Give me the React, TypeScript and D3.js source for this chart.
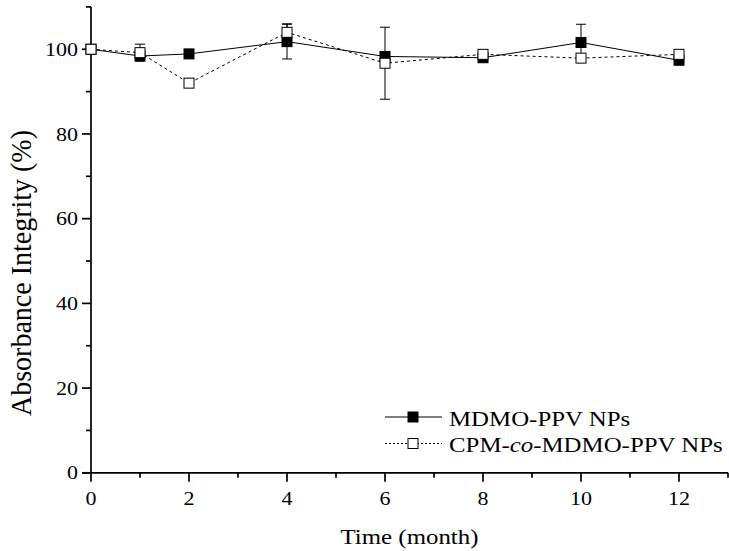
import React from "react";
import * as d3 from "d3";

// Time points (months)
const months = [0, 1, 2, 4, 6, 8, 10, 12];

// MDMO-PPV NPs: absorbance integrity (%) and error
const mdmoValues = [100, 98.4, 98.9, 101.8, 98.3, 98.0, 101.6, 97.4];
const mdmoErrors = [0, 0.5, 0.5, 4.1, 0.5, 0.5, 4.3, 0.5];

// CPM-co-MDMO-PPV NPs: absorbance integrity (%) and error
const cpmValues = [100, 99.2, 92.0, 104.0, 96.7, 98.8, 97.9, 98.8];
const cpmErrors = [0, 2.0, 1.0, 2.0, 8.5, 1.0, 0.5, 0.5];

const xTicks = [0, 2, 4, 6, 8, 10, 12];
const xMinorTicks = [1, 3, 5, 7, 9, 11, 13];
const yTicks = [0, 20, 40, 60, 80, 100];
const yMinorTicks = [10, 30, 50, 70, 90, 110];

const W = 729;
const H = 551;
const FONT = "'Liberation Serif', 'Times New Roman', serif";
// glyphs are set slightly wide
const SX = 1.13;

type Pt = { m: number; v: number; e: number };

export default function App() {
  const x = d3.scaleLinear().domain([0, 13]).range([91, 728]);
  const y = d3.scaleLinear().domain([0, 110]).range([472.8, 6.9]);

  const mdmo: Pt[] = months.map((m, i) => ({ m, v: mdmoValues[i], e: mdmoErrors[i] }));
  const cpm: Pt[] = months.map((m, i) => ({ m, v: cpmValues[i], e: cpmErrors[i] }));

  const line = d3
    .line<Pt>()
    .x((d) => x(d.m))
    .y((d) => y(d.v));

  const sq = 10;
  const cap = 5;

  const errBars = (data: Pt[], key: string) =>
    data
      .filter((d) => d.e > 0)
      .map((d, i) => {
        const cx = x(d.m);
        const y1 = y(d.v + d.e);
        const y2 = y(d.v - d.e);
        return (
          <g key={key + i} stroke="#000" strokeWidth={1}>
            <line x1={cx} x2={cx} y1={y1} y2={y2} />
            <line x1={cx - cap} x2={cx + cap} y1={y1} y2={y1} />
            <line x1={cx - cap} x2={cx + cap} y1={y2} y2={y2} />
          </g>
        );
      });

  const axisY = y(0);
  const axisX = x(0);

  return (
    <svg
      width={W}
      height={H}
      style={{ position: "absolute", left: 0, top: 0, background: "#fff" }}
      fontFamily={FONT}
    >
      <rect width={W} height={H} fill="#fff" />

      {/* axes */}
      <g stroke="#000" strokeWidth={1.7} fill="none">
        <line x1={axisX} x2={axisX} y1={y(110)} y2={axisY} />
        <line x1={axisX - 9} x2={x(13)} y1={axisY} y2={axisY} />
        {yTicks.map((t) => (
          <line key={"yt" + t} x1={axisX - 9} x2={axisX} y1={y(t)} y2={y(t)} />
        ))}
        {yMinorTicks.map((t) => (
          <line key={"ym" + t} x1={axisX - 5} x2={axisX} y1={y(t)} y2={y(t)} />
        ))}
        {xTicks.map((t) => (
          <line key={"xt" + t} x1={x(t)} x2={x(t)} y1={axisY} y2={axisY + 9} />
        ))}
        {xMinorTicks.map((t) => (
          <line key={"xm" + t} x1={x(t)} x2={x(t)} y1={axisY} y2={axisY + 5} />
        ))}
      </g>

      {/* tick labels */}
      <g fontSize={19.5} fill="#000">
        {yTicks.map((t) => (
          <text
            key={"yl" + t}
            transform={`translate(${axisX - 13}, ${y(t)}) scale(${SX}, 1)`}
            dy="0.34em"
            textAnchor="end"
          >
            {t}
          </text>
        ))}
        {xTicks.map((t) => (
          <text
            key={"xl" + t}
            transform={`translate(${x(t)}, 505) scale(${SX}, 1)`}
            textAnchor="middle"
          >
            {t}
          </text>
        ))}
      </g>

      {/* axis titles */}
      <text
        transform={`translate(409.5, 544) scale(${SX}, 1)`}
        fontSize={22}
        textAnchor="middle"
      >
        Time (month)
      </text>
      <text
        transform={`translate(31, 273) scale(${SX}, 1) rotate(-90)`}
        fontSize={27}
        textAnchor="middle"
        textLength={286}
        lengthAdjust="spacingAndGlyphs"
      >
        Absorbance Integrity (%)
      </text>

      {/* series lines */}
      <path d={line(cpm) ?? ""} fill="none" stroke="#000" strokeWidth={1} strokeDasharray="3,3" />
      <path d={line(mdmo) ?? ""} fill="none" stroke="#000" strokeWidth={1} />

      {/* error bars */}
      {errBars(mdmo, "me")}
      {errBars(cpm, "ce")}

      {/* markers */}
      {mdmo.map((d, i) => (
        <rect
          key={"mm" + i}
          x={x(d.m) - sq / 2}
          y={y(d.v) - sq / 2}
          width={sq}
          height={sq}
          fill="#000"
          stroke="#000"
        />
      ))}
      {cpm.map((d, i) => (
        <rect
          key={"cm" + i}
          x={x(d.m) - sq / 2}
          y={y(d.v) - sq / 2}
          width={sq}
          height={sq}
          fill="#fff"
          stroke="#000"
        />
      ))}

      {/* legend */}
      <g fontSize={22}>
        <line x1={385} x2={442} y1={417} y2={417} stroke="#000" strokeWidth={1.2} />
        <rect x={408} y={412} width={sq} height={sq} fill="#000" stroke="#000" />
        <text transform={`translate(449, 425.5) scale(${SX}, 1)`}>MDMO-PPV NPs</text>
        <line
          x1={385}
          x2={442}
          y1={443.5}
          y2={443.5}
          stroke="#000"
          strokeWidth={1}
          strokeDasharray="2,2"
        />
        <rect x={408} y={438.5} width={sq} height={sq} fill="#fff" stroke="#000" />
        <text transform={`translate(449, 452) scale(${SX}, 1)`}>
          CPM-<tspan fontStyle="italic">co</tspan>-MDMO-PPV NPs
        </text>
      </g>
    </svg>
  );
}
